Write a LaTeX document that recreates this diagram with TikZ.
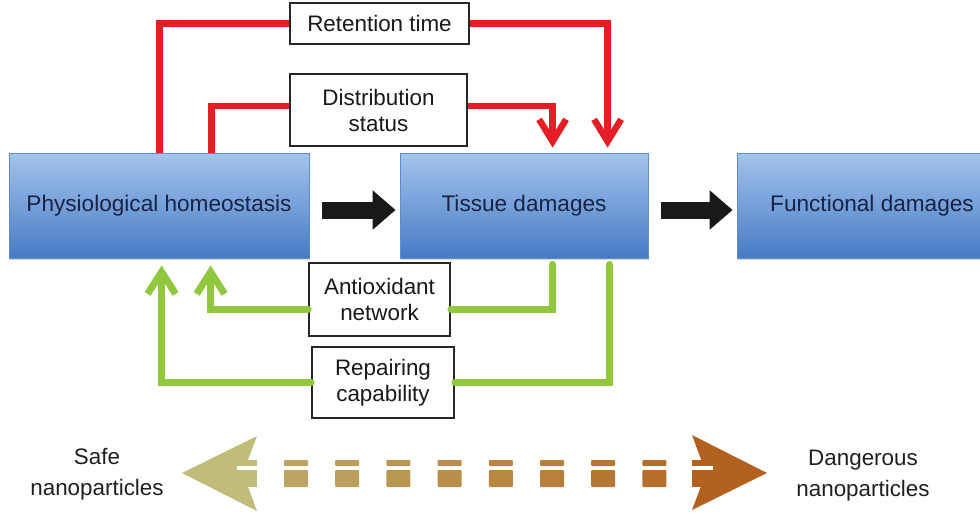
\documentclass[tikz,border=0pt]{standalone}
\usepackage{fontspec}
\setmainfont{Liberation Sans}
\usetikzlibrary{arrows.meta,calc,shadows}

\definecolor{boxtop}{RGB}{164,196,236}
\definecolor{boxbottom}{RGB}{70,123,196}
\definecolor{boxedge}{RGB}{95,140,205}
\definecolor{boxtext}{RGB}{22,36,72}
\definecolor{feedred}{RGB}{228,30,36}
\definecolor{feedgreen}{RGB}{146,200,62}
\definecolor{safecol}{RGB}{192,188,122}
\definecolor{dangercol}{RGB}{178,98,30}

\begin{document}
\begin{tikzpicture}[x=1pt,y=-1pt,
		stage/.style={rectangle, inner sep=0pt, top color=boxtop, bottom color=boxbottom, draw=boxedge, line width=0.8pt, text=boxtext, font=\fontsize{22.6}{27}\selectfont, drop shadow={opacity=0.3, shadow xshift=1pt, shadow yshift=-2pt}},
		factor/.style={rectangle, inner sep=0pt, fill=white, draw=black!85, line width=1.8pt, align=center, text=black!90, font=\fontsize{22.4}{26}\selectfont},
		redline/.style={draw=feedred, line width=6.5pt, -{Straight Barb[length=22pt,width=27pt]}},
		greenline/.style={draw=feedgreen, line width=7pt, line cap=round, -{Straight Barb[length=22pt,width=28pt]}},
		blockarrow/.style={draw=black!90, line width=17pt, -{Triangle[length=23pt,width=38pt]}, shorten <=13pt, shorten >=4pt},
		scale label/.style={align=center, text=black!88, font=\fontsize{22.4}{31}\selectfont}]
		\useasboundingbox (0,0) rectangle (980,515);
		\clip (0,0) rectangle (980,515);

		\node[stage, minimum width=300pt, minimum height=105pt] (phys) at (159,205.5) {Physiological homeostasis};
		\node[stage, minimum width=248pt, minimum height=105pt] (tissue) at (524,205.5) {Tissue damages};
		\node[stage, minimum width=270pt, minimum height=105pt] (func) at (872,205.5) {Functional damages};

		\draw[blockarrow] ([yshift=-4.5pt]phys.east) -- ([yshift=-4.5pt]tissue.west);
		\draw[blockarrow] ([yshift=-4.5pt]tissue.east) -- ([yshift=-4.5pt]func.west);

		\node[factor, minimum width=179pt, minimum height=41pt] (ret) at (379.5,23.5) {Retention time};
		\node[factor, minimum width=177pt, minimum height=72pt] (dist) at (378.5,110) {Distribution\\status};
		\node[factor, minimum width=141pt, minimum height=73pt] (anti) at (379.5,299.5) {Antioxidant\\network};
		\node[factor, minimum width=142pt, minimum height=71pt] (rep) at (383,382.5) {Repairing\\capability};

		\draw[redline, -] ($(phys.north west)+(151,0)$) |- (ret.west);
		\draw[redline] (ret.east) -| ($(tissue.north west)+(208,-5)$);
		\draw[redline, -] ($(phys.north west)+(203,0)$) |- ([yshift=4pt]dist.west);
		\draw[redline] ([yshift=4pt]dist.east) -| ($(tissue.north west)+(153,-5)$);

		\draw[greenline, -] ($(tissue.south west)+(153,6)$) |- ([yshift=-9.5pt]anti.east);
		\draw[greenline] ([yshift=-9.5pt]anti.west) -| ($(phys.south west)+(202,7)$);
		\draw[greenline, -] ($(tissue.south west)+(210,6)$) |- (rep.east);
		\draw[greenline] (rep.west) -| ($(phys.south west)+(153,7)$);

		\fill[safecol] (182,473) -- (257,436) -- (243,473) -- (257,511) -- cycle;
		\fill[safecol] (237,460) rectangle (257,466);
		\fill[safecol] (237,470) rectangle (257,487);
		\fill[white] (237,466) rectangle (257,469.5);
		\foreach \i [evaluate=\i as \p using 75-60*\i/7] in {0,...,7} {
			\fill[safecol!\p!dangercol, rounded corners=1pt] (284+51.2*\i,460) rectangle ++(24,6);
			\fill[safecol!\p!dangercol, rounded corners=1pt] (284+51.2*\i,470) rectangle ++(24,17);
		}
		\fill[dangercol] (767,473) -- (692,435) -- (706,473) -- (692,510) -- cycle;
		\fill[dangercol] (692,460) rectangle (713,466);
		\fill[dangercol] (692,470) rectangle (713,487);
		\fill[white] (692,466) rectangle (713,469.5);

		\node[scale label] (safe) at (97,474) {Safe\\nanoparticles};
		\node[scale label] (danger) at (863,476) {Dangerous\\nanoparticles};
	\end{tikzpicture}
\end{document}
